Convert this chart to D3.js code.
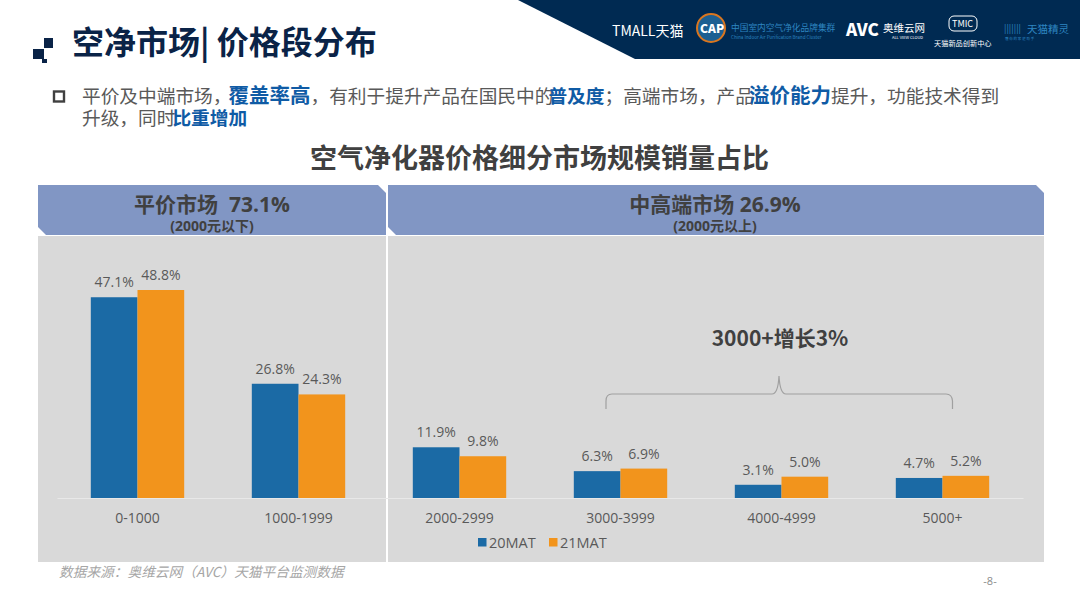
<!DOCTYPE html>
<html>
<head>
<meta charset="utf-8">
<script src="https://cdn.jsdelivr.net/npm/d3@7"></script>
<style>
  html, body { margin: 0; padding: 0; background: #fff; }
  svg { display: block; }
  text { font-family: "Open Sans", "Noto Sans CJK SC", sans-serif; }
  .cjk { font-family: "Noto Sans CJK SC", sans-serif; }
</style>
</head>
<body>
<div id="chart"></div>
<script>
const categories = ["0-1000", "1000-1999", "2000-2999", "3000-3999", "4000-4999", "5000+"];
const seriesNames = ["20MAT", "21MAT"];
const values20 = [47.1, 26.8, 11.9, 6.3, 3.1, 4.7];
const values21 = [48.8, 24.3, 9.8, 6.9, 5.0, 5.2];
const colors = ["#1b6aa5", "#f2941c"];

const width = 1080, height = 608;
const baseline = 498;

const svg = d3.select("#chart").append("svg")
    .attr("width", width)
    .attr("height", height);

// top right banner
svg.append("polygon")
    .attr("points", "518,0 635,59 1080,59 1080,0")
    .attr("fill", "#002a52");

// title block
const squares = [[44, 38, 9, 10, "#0a2347"], [33, 49, 11, 10, "#0a2347"], [42, 59, 5, 4, "#0a2347"]];
svg.selectAll(".sq").data(squares).enter().append("rect")
    .attr("x", d => d[0]).attr("y", d => d[1])
    .attr("width", d => d[2]).attr("height", d => d[3])
    .attr("fill", d => d[4]);

svg.append("text").attr("class", "cjk")
    .attr("x", 72).attr("y", 54)
    .attr("font-size", 32).attr("font-weight", 700).attr("fill", "#0a2347")
    .text("空净市场| 价格段分布");

// logos, roughly
const logo = (x, y, size, txt, fill, weight) => svg.append("text").attr("class", "cjk")
    .attr("x", x).attr("y", y).attr("font-size", size)
    .attr("font-weight", weight || 400).attr("fill", fill).text(txt);
logo(612, 36, 14, "TMALL天猫", "#ffffff");
svg.append("circle").attr("cx", 711).attr("cy", 28).attr("r", 14)
    .attr("fill", "#1c5f92").attr("stroke", "#d9761f").attr("stroke-width", 2);
logo(700, 33, 12, "CAP", "#ffffff", 900);
logo(731, 31, 8.7, "中国室内空气净化品牌集群", "#2e86c1");
logo(731, 39, 4.6, "China Indoor Air Purification Brand Cluster", "#2e86c1");
logo(846, 36, 17, "AVC", "#ffffff", 900);
logo(883, 32, 10.5, "奥维云网", "#ffffff");
logo(892, 39, 4, "ALL VIEW CLOUD", "#ffffff");
svg.append("rect").attr("x", 949).attr("y", 16).attr("width", 28).attr("height", 15).attr("rx", 5)
    .attr("fill", "none").attr("stroke", "#fff");
logo(952, 27, 9, "TMIC", "#ffffff");
logo(934, 46, 7.2, "天猫新品创新中心", "#ffffff");
logo(1004, 32, 9, "|||||||", "#2e86c1");
logo(1027, 33, 10.5, "天猫精灵", "#2e86c1");
logo(1005, 40, 3.5, "懂 你 的 家 庭 助 手", "#2e86c1");

// bullet text
svg.append("rect").attr("x", 54).attr("y", 91.5).attr("width", 10).attr("height", 10)
    .attr("fill", "none").attr("stroke", "#404040").attr("stroke-width", 2.4);

// [text, bold, font size, dx]
const bullet1 = [["平价及中端市场，", 0, 18.7, 0], ["覆盖率高", 1, 20.5, -3], ["，有利于提升产品在国民中的", 0, 18.7, 0],
    ["普及度", 1, 18.7, -5], ["；高端市场，产品", 0, 18.7, 0], ["溢价能力", 1, 20.5, -5], ["提升，功能技术得到", 0, 18.7, 0]];
const bullet2 = [["升级，同时", 0, 18.7, 0], ["比重增加", 1, 18.7, -3]];
const addLine = (parts, y) => {
    const t = svg.append("text").attr("class", "cjk").attr("x", 82).attr("y", y);
    parts.forEach(p => t.append("tspan")
        .attr("dx", p[3])
        .attr("font-size", p[2])
        .attr("fill", p[1] ? "#0f5ba5" : "#595959")
        .attr("font-weight", p[1] ? 700 : 400)
        .text(p[0]));
};
addLine(bullet1, 103);
addLine(bullet2, 125);

svg.append("text").attr("class", "cjk")
    .attr("x", 539.5).attr("y", 168).attr("text-anchor", "middle")
    .attr("font-size", 27).attr("font-weight", 700).attr("fill", "#404040")
    .text("空气净化器价格细分市场规模销量占比");

// panels
svg.append("polygon").attr("points", "38,185 378,185 386,193 386,235 46,235 38,227").attr("fill", "#8196c4");
svg.append("polygon").attr("points", "388,185 1036,185 1044,193 1044,235 396,235 388,227").attr("fill", "#8196c4");
svg.append("rect").attr("x", 38).attr("y", 236).attr("width", 348).attr("height", 326).attr("fill", "#d9d9d9");
svg.append("rect").attr("x", 388).attr("y", 236).attr("width", 656).attr("height", 326).attr("fill", "#d9d9d9");

const heads = [
    [212, "平价市场  73.1%", "(2000元以下)"],
    [715, "中高端市场 26.9%", "(2000元以上)"]
];
heads.forEach(h => {
    svg.append("text").attr("x", h[0]).attr("y", 212).attr("text-anchor", "middle")
        .attr("font-size", 21).attr("font-weight", 700).attr("fill", "#404040")
        .style("white-space", "pre").text(h[1]);
    svg.append("text").attr("x", h[0]).attr("y", 231).attr("text-anchor", "middle")
        .attr("font-size", 14).attr("font-weight", 700).attr("fill", "#404040").text(h[2]);
});

// scales
const x0 = d3.scaleBand()
    .domain(categories)
    .range([57, 1023])
    .paddingInner(0.42)
    .paddingOuter(0.21);
const x1 = d3.scaleBand()
    .domain(seriesNames)
    .range([0, x0.bandwidth()]);
const y = d3.scaleLinear()
    .domain([0, 48.8])
    .range([baseline, 290]);

const rows = categories.map((c, i) => ({ cat: c, vals: [values20[i], values21[i]] }));

const groups = svg.selectAll(".grp").data(rows).enter().append("g")
    .attr("transform", d => `translate(${x0(d.cat)},0)`);

groups.selectAll("rect")
    .data(d => d.vals.map((v, i) => ({ name: seriesNames[i], v, i })))
    .enter().append("rect")
    .attr("x", d => x1(d.name))
    .attr("y", d => y(d.v))
    .attr("width", x1.bandwidth())
    .attr("height", d => baseline - y(d.v))
    .attr("fill", d => colors[d.i]);

groups.selectAll(".val")
    .data(d => d.vals.map((v, i) => ({ name: seriesNames[i], v, i })))
    .enter().append("text")
    .attr("x", d => x1(d.name) + x1.bandwidth() / 2)
    .attr("y", d => y(d.v) - 10)
    .attr("text-anchor", "middle")
    .attr("font-size", 14)
    .attr("fill", "#595959")
    .text(d => d.v.toFixed(1) + "%");

// axis
const xAxis = svg.append("g")
    .attr("transform", `translate(0,${baseline})`)
    .call(d3.axisBottom(x0).tickSize(0).tickPadding(15));
xAxis.select(".domain").attr("stroke", "#e8e8e8").attr("stroke-width", 1);
xAxis.selectAll("text")
    .attr("font-size", 14)
    .attr("fill", "#595959")
    .style("font-family", '"Open Sans", sans-serif');

// legend
const legend = svg.selectAll(".leg").data(seriesNames).enter().append("g")
    .attr("transform", (d, i) => `translate(${i ? 549 : 478},0)`);
legend.append("rect").attr("x", 0).attr("y", 538).attr("width", 8.5).attr("height", 8.5)
    .attr("fill", (d, i) => colors[i]);
legend.append("text").attr("x", 11).attr("y", 547.5)
    .attr("font-size", 14.5).attr("fill", "#595959").text(d => d);

// bracket over 3000+
svg.append("path")
    .attr("d", "M606,409 V401 Q606,394 612,394 H772 Q778,394 779,376 Q780,394 786,394 H946 Q952,394 952.5,401 V409")
    .attr("fill", "none").attr("stroke", "#a0a0a0").attr("stroke-width", 1.2);
svg.append("text").attr("class", "cjk")
    .attr("x", 780).attr("y", 346).attr("text-anchor", "middle")
    .attr("font-size", 21).attr("font-weight", 700).attr("fill", "#404040")
    .text("3000+增长3%");

// footer
svg.append("text").attr("class", "cjk")
    .attr("x", 59).attr("y", 577)
    .attr("font-size", 13.7).attr("font-style", "italic").attr("fill", "#a6a6a6")
    .text("数据来源：奥维云网（AVC）天猫平台监测数据");
svg.append("text")
    .attr("x", 990).attr("y", 585).attr("text-anchor", "middle")
    .attr("font-size", 11).attr("fill", "#8c8c8c")
    .text("-8-");
</script>
</body>
</html>
